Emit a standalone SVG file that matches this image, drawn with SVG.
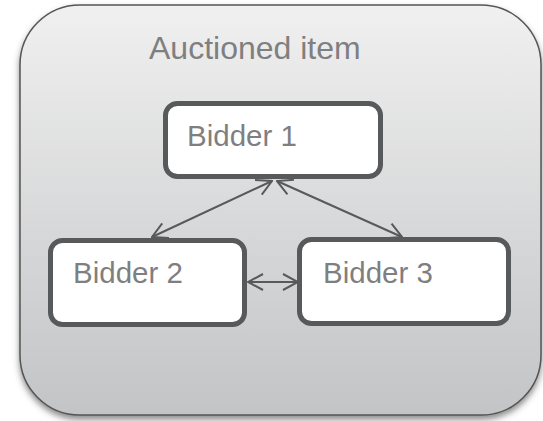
<svg xmlns="http://www.w3.org/2000/svg" width="543" height="421" viewBox="0 0 543 421">
  <defs>
    <linearGradient id="panelFill" x1="0" y1="0" x2="0" y2="1">
      <stop offset="0" stop-color="#f0f0f0"/>
      <stop offset="1" stop-color="#c3c4c6"/>
    </linearGradient>
    <filter id="panelShadow" x="-10%" y="-10%" width="120%" height="125%">
      <feDropShadow dx="0" dy="4" stdDeviation="3" flood-color="#404040" flood-opacity="0.6"/>
    </filter>
    <marker id="openArrow" viewBox="0 0 20 20" refX="19" refY="10" markerWidth="20" markerHeight="20" markerUnits="userSpaceOnUse" orient="auto-start-reverse">
      <path d="M4,2 L19,10 L4,18" fill="none" stroke="#595959" stroke-width="2"/>
    </marker>
    <style>
      .panel { fill: url(#panelFill); stroke: #555555; stroke-width: 1.5; }
      .box { fill: #ffffff; stroke: #58595b; stroke-width: 5; }
      .title { font-family: "Liberation Sans", Arial, sans-serif; font-size: 32px; fill: #7f7f7f; }
      .label { font-family: "Liberation Sans", Arial, sans-serif; font-size: 29.5px; fill: #7f7f7f; }
      .link { stroke: #595959; stroke-width: 2; fill: none; marker-start: url(#openArrow); marker-end: url(#openArrow); }
    </style>
  </defs>

  <!-- container: the auctioned item -->
  <g id="auctioned-item">
    <rect class="panel" x="20" y="5" width="521" height="410" rx="60" ry="60" filter="url(#panelShadow)"/>
    <text class="title" x="149" y="59">Auctioned item</text>
  </g>

  <!-- bidder relations, each arrow two-way -->
  <g id="connectors">
    <line class="link" x1="152" y1="237" x2="272" y2="181"/>
    <line class="link" x1="277" y1="181" x2="402" y2="237"/>
    <line class="link" x1="248" y1="282" x2="298" y2="282"/>
  </g>

  <g id="bidder-1">
    <rect class="box" x="165.5" y="103.5" width="215" height="73" rx="12" ry="12"/>
    <text class="label" x="187" y="146">Bidder 1</text>
  </g>

  <g id="bidder-2">
    <rect class="box" x="50.5" y="240.5" width="194" height="84" rx="12" ry="12"/>
    <text class="label" x="73" y="283">Bidder 2</text>
  </g>

  <g id="bidder-3">
    <rect class="box" x="299.5" y="239.5" width="209" height="84" rx="12" ry="12"/>
    <text class="label" x="323" y="283">Bidder 3</text>
  </g>
</svg>
